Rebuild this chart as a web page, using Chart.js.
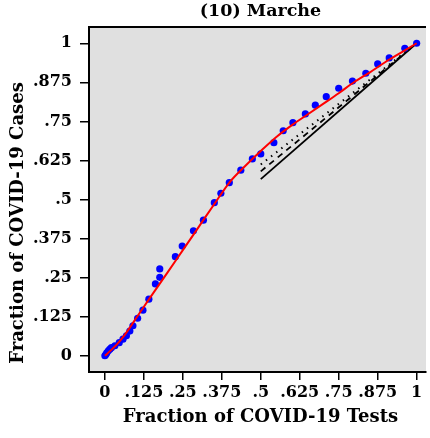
<!DOCTYPE html>
<html>
<head>
<meta charset="utf-8">
<script src="https://cdn.jsdelivr.net/npm/chart.js@4.4.1/dist/chart.umd.min.js"></script>
<style>
html,body{margin:0;padding:0;background:#fff;}
#wrap{width:430px;height:438px;position:relative;}
</style>
</head>
<body>
<div id="wrap"><canvas id="c" width="430" height="438"></canvas></div>
<script>
const chartTitle = "(10) Marche";
const xTitle = "Fraction of COVID-19 Tests";
const yTitle = "Fraction of COVID-19 Cases";
const tickValues = [0, 0.125, 0.25, 0.375, 0.5, 0.625, 0.75, 0.875, 1];
const tickLabels = ["0", ".125", ".25", ".375", ".5", ".625", ".75", ".875", "1"];

// observed points (fraction of tests, fraction of cases)
const obsX = [0, 0.003, 0.006, 0.011, 0.016, 0.021, 0.032, 0.046, 0.058, 0.069, 0.080, 0.090, 0.105, 0.122, 0.141, 0.162, 0.176, 0.176, 0.226, 0.248, 0.284, 0.316, 0.351, 0.372, 0.399, 0.436, 0.473, 0.500, 0.542, 0.572, 0.603, 0.643, 0.675, 0.710, 0.750, 0.794, 0.837, 0.875, 0.912, 0.962, 1.0];
const obsY = [0, 0.004, 0.009, 0.016, 0.021, 0.026, 0.032, 0.042, 0.053, 0.064, 0.079, 0.096, 0.120, 0.146, 0.181, 0.230, 0.251, 0.278, 0.317, 0.351, 0.400, 0.434, 0.490, 0.520, 0.554, 0.594, 0.630, 0.646, 0.682, 0.720, 0.746, 0.774, 0.802, 0.829, 0.856, 0.879, 0.904, 0.934, 0.953, 0.984, 1.0];

// fitted curve
const fitX = [0, 0.02, 0.04, 0.06, 0.08, 0.10, 0.125, 0.15, 0.175, 0.20, 0.25, 0.30, 0.35, 0.40, 0.45, 0.50, 0.55, 0.60, 0.65, 0.70, 0.75, 0.80, 0.85, 0.90, 0.95, 1.0];
const fitY = [0, 0.018, 0.038, 0.062, 0.090, 0.120, 0.157, 0.193, 0.229, 0.265, 0.338, 0.411, 0.484, 0.555, 0.607, 0.655, 0.700, 0.738, 0.772, 0.806, 0.840, 0.876, 0.907, 0.940, 0.970, 1.0];

// reference lines
const solidX = [0.5, 1.0];
const solidY = [0.565, 1.0];
const dashX = [0.5, 1.0];
const dashY = [0.590, 1.0];
const dotX = [0.5, 1.0];
const dotY = [0.612, 1.0];

const pts = (xs, ys) => xs.map((x, i) => ({x: x, y: ys[i]}));
const FONT = "'DejaVu Serif', 'Liberation Serif', serif";

const bgPlugin = {
  id: 'bg',
  beforeDraw(chart) {
    const {ctx, chartArea: a} = chart;
    ctx.save();
    ctx.fillStyle = '#e0e0e0';
    ctx.fillRect(a.left, a.top, a.right - a.left, a.bottom - a.top);
    ctx.strokeStyle = '#000';
    ctx.lineWidth = 2;
    ctx.beginPath();
    ctx.moveTo(a.left, a.top);
    ctx.lineTo(a.right, a.top);
    ctx.stroke();
    ctx.restore();
  },
  afterDraw(chart) {
    const {ctx, chartArea: a} = chart;
    ctx.save();
    ctx.fillStyle = '#000';
    ctx.textAlign = 'center';
    ctx.textBaseline = 'middle';
    ctx.font = "bold 17.5px " + FONT;
    ctx.fillText(chartTitle, (a.left + a.right) / 2 + 3, 11);
    ctx.font = "bold 18px " + FONT;
    ctx.fillText(xTitle, (a.left + a.right) / 2 + 3, 417);
    ctx.translate(18.5, 223);
    ctx.rotate(-Math.PI / 2);
    ctx.fillText(yTitle, 0, 0);
    ctx.restore();
  }
};

const tickFont = {family: FONT, size: 16, weight: 'bold'};

new Chart(document.getElementById('c'), {
  type: 'scatter',
  data: {
    datasets: [
      {data: pts(fitX, fitY), showLine: true, borderColor: '#ff0000', borderWidth: 2, pointRadius: 0, cubicInterpolationMode: 'monotone', order: 0},
      {data: pts(obsX, obsY), backgroundColor: '#0000ff', borderColor: '#0000ff', pointRadius: 3.6, borderWidth: 0, order: 1},
      {data: pts(solidX, solidY), showLine: true, borderColor: '#000', borderWidth: 1.8, pointRadius: 0, order: 2},
      {data: pts(dashX, dashY), showLine: true, borderColor: '#000', borderWidth: 1.8, borderDash: [6, 5], pointRadius: 0, order: 2},
      {data: pts(dotX, dotY), showLine: true, borderColor: '#000', borderWidth: 2, borderDash: [1.5, 5], pointRadius: 0, order: 2}
    ]
  },
  options: {
    responsive: false,
    animation: false,
    events: [],
    layout: {padding: {top: 27, right: 2, left: 0, bottom: 0}},
    plugins: {legend: {display: false}, tooltip: {enabled: false}, title: {display: false}},
    scales: {
      x: {
        type: 'linear', min: -0.051, max: 1.030,
        afterBuildTicks: s => { s.ticks = tickValues.map(v => ({value: v})); },
        afterFit: s => { s.height = 66; },
        ticks: {color: '#000', font: tickFont, padding: 3, maxRotation: 0, autoSkip: false,
          callback: (v) => { const i = tickValues.indexOf(v); return i >= 0 ? tickLabels[i] : ''; }},
        grid: {drawOnChartArea: false, drawTicks: true, tickLength: 8, color: '#000', lineWidth: 1.5},
        border: {display: true, color: '#000', width: 2},
        title: {display: false}
      },
      y: {
        type: 'linear', min: -0.052, max: 1.052,
        afterBuildTicks: s => { s.ticks = tickValues.map(v => ({value: v})); },
        afterFit: s => { s.width = 89; },
        ticks: {color: '#000', font: tickFont, padding: 8, autoSkip: false,
          callback: (v) => { const i = tickValues.indexOf(v); return i >= 0 ? tickLabels[i] : ''; }},
        grid: {drawOnChartArea: false, drawTicks: true, tickLength: 9, color: '#000', lineWidth: 1.5},
        border: {display: true, color: '#000', width: 2},
        title: {display: false}
      }
    }
  },
  plugins: [bgPlugin]
});
</script>
</body>
</html>
